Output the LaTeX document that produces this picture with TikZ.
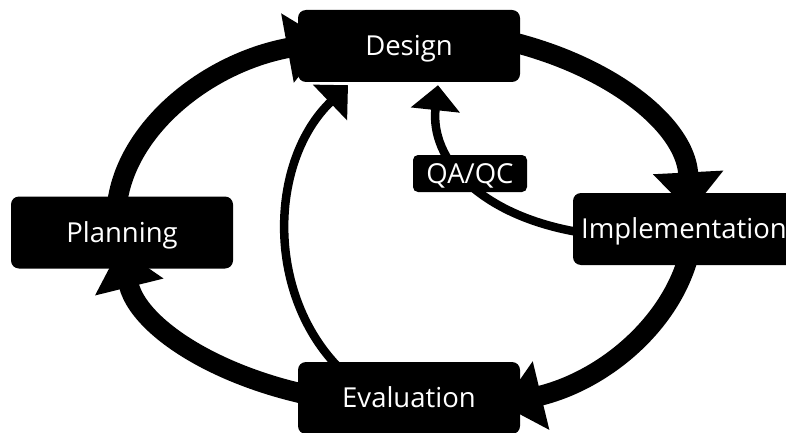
\documentclass[tikz,border=0pt]{standalone}
\usepackage{fontspec}
\setmainfont{Open Sans}
\usetikzlibrary{arrows.meta}
\pgfdeclarelayer{bg}
\pgfsetlayers{bg,main}
\begin{document}
\begin{tikzpicture}[x=1pt,y=1pt,
  box/.style={fill=black, text=white, rounded corners=8pt, minimum width=222pt,
    minimum height=72pt, inner sep=0pt, text height=19.6pt, text depth=0pt,
    font=\fontsize{27.5pt}{30pt}\selectfont},
  qbox/.style={box, minimum width=114pt, minimum height=37pt, rounded corners=5pt},
  cyclearrow/.style={line width=20pt, -{Triangle[length=40pt,width=68pt]}},
  innerarrow/.style={line width=8.5pt, -{Triangle[length=25pt,width=48pt]}}]
\useasboundingbox (0,0) rectangle (786,432);
\node[box] (design) at (409,386) {Design};
\node[box] (planning) at (122,199.5) {Planning};
\node[box] (impl) at (684,203) {Implementation};
\node[box] (eval) at (409,34) {Evaluation};
\node[qbox] (qa) at (470,258.5) {QA/QC};
\begin{pgfonlayer}{bg}
\fill[white] (0,0) rectangle (786,432);
\coordinate (c) at (407,213);
% Planning -> Design
\draw[cyclearrow] ([shift={(180:290.9pt and 185.3pt)}]c)
  arc[start angle=180, end angle=106, x radius=290.9pt, y radius=185.3pt];
% Design -> Implementation
\draw[cyclearrow] ([shift={(90:283.4pt and 190pt)}]c)
  arc[start angle=90, end angle=2, x radius=283.4pt, y radius=190pt];
% Implementation -> Evaluation
\draw[cyclearrow] ([shift={(0:286.5pt and 197.2pt)}]c)
  arc[start angle=0, end angle=-70.6, x radius=286.5pt, y radius=197.2pt];
% Evaluation -> Planning
\draw[cyclearrow] ([shift={(-90:290.9pt and 186.5pt)}]c)
  arc[start angle=-90, end angle=-171, x radius=290.9pt, y radius=186.5pt];
% Evaluation -> Design
\draw[innerarrow] ([xshift=-72pt,yshift=-4pt]eval.north)
  .. controls (265,142) and (270,272) .. ([xshift=-61pt,yshift=-3pt]design.south);
% Implementation -> Design via QA/QC
\draw[innerarrow] ([xshift=5pt,yshift=-3pt]impl.west)
  .. controls (480,217) and (430,272) .. ([xshift=29pt,yshift=-3pt]design.south);
\end{pgfonlayer}
\end{tikzpicture}
\end{document}
